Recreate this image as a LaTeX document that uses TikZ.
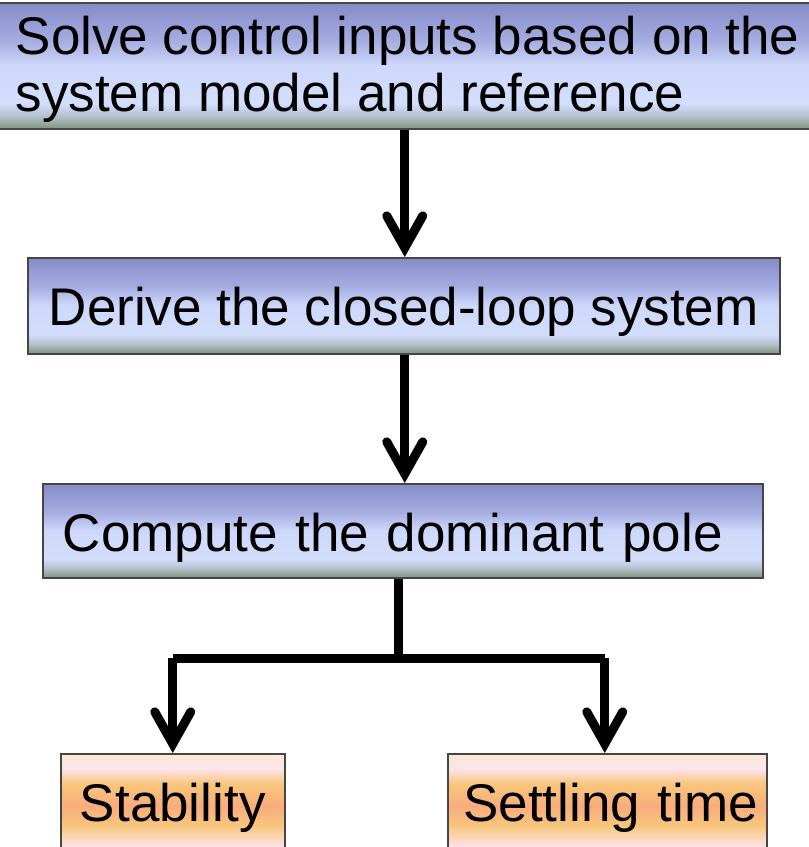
\documentclass[tikz,border=0pt]{standalone}
\usepackage{fontspec}
\setmainfont{Liberation Sans}
\usetikzlibrary{arrows.meta}

% Box fillings, bottom (25bp) to top (75bp)
\pgfdeclareverticalshading{bluefill}{100bp}{%
  rgb(0bp)=(0.502,0.580,0.486);
  rgb(25bp)=(0.502,0.580,0.486);
  rgb(30bp)=(0.706,0.753,0.804);
  rgb(35bp)=(0.824,0.871,0.988);
  rgb(50bp)=(0.808,0.847,0.980);
  rgb(60bp)=(0.647,0.675,0.882);
  rgb(75bp)=(0.525,0.545,0.784);
  rgb(100bp)=(0.525,0.545,0.784)}
\pgfdeclareverticalshading{orangefill}{100bp}{%
  rgb(0bp)=(0.988,0.886,0.894);
  rgb(25bp)=(0.988,0.886,0.894);
  rgb(27.5bp)=(0.988,0.886,0.894);
  rgb(38bp)=(0.973,0.776,0.486);
  rgb(48bp)=(0.973,0.675,0.486);
  rgb(59.5bp)=(0.973,0.776,0.478);
  rgb(67.3bp)=(0.988,0.894,0.925);
  rgb(75bp)=(0.988,0.918,0.831);
  rgb(100bp)=(0.988,0.918,0.831)}

\definecolor{boxline}{RGB}{70,70,70}

\tikzset{
  box/.style={draw=boxline, line width=1.5pt, inner sep=0pt, anchor=north west,
    font=\fontsize{53pt}{57pt}\selectfont, text=black},
  bluebox/.style={box, shading=bluefill},
  orangebox/.style={box, shading=orangefill},
  wire/.style={line width=9pt, black},
  flow/.style={wire, -{Straight Barb[length=32pt,width=36pt,line cap=round,line join=miter]}}
}

\begin{document}
\begin{tikzpicture}[x=1pt,y=-1pt]
\path[use as bounding box, clip] (0,0) rectangle (809,847);

% process steps
\node[bluebox, inner xsep=20pt, align=left,
      text height=109pt, text depth=17pt] (solve) at (-5,2)
  {Solve control inputs based on the\\system model and reference};
\node[bluebox, minimum width=752pt, text height=68pt, text depth=28pt] (derive) at (27,257)
  {Derive the closed-loop system};
\node[bluebox, text width=680pt, inner xsep=20pt, align=left,
      text height=68pt, text depth=26pt] (compute) at (42,483)
  {Compute the dominant pole};

% outcomes
\node[orangebox, minimum width=224pt, text height=68pt, text depth=29pt] (stab) at (60,753)
  {Stability};
\node[orangebox, text width=301pt, inner xsep=9pt, align=right,
      text height=68pt, text depth=29pt] (settle) at (447,753)
  {Settling time};

% connectors
\draw[flow] ([xshift=1pt]derive.north |- solve.south) -- ([xshift=1pt]derive.north);
\draw[flow] ([xshift=1pt]derive.south) -- ([xshift=1pt]derive.south |- compute.north);

\coordinate (split) at (398,658);
\coordinate (sx) at ([xshift=-2.5pt]settle.north);
\draw[wire] (compute.south -| split) -- (split);
\draw[wire] (split -| stab.north) -- (split -| sx);
\draw[flow] (split -| stab.north) -- (stab.north);
\draw[flow] (split -| sx) -- (sx);
\end{tikzpicture}
\end{document}
